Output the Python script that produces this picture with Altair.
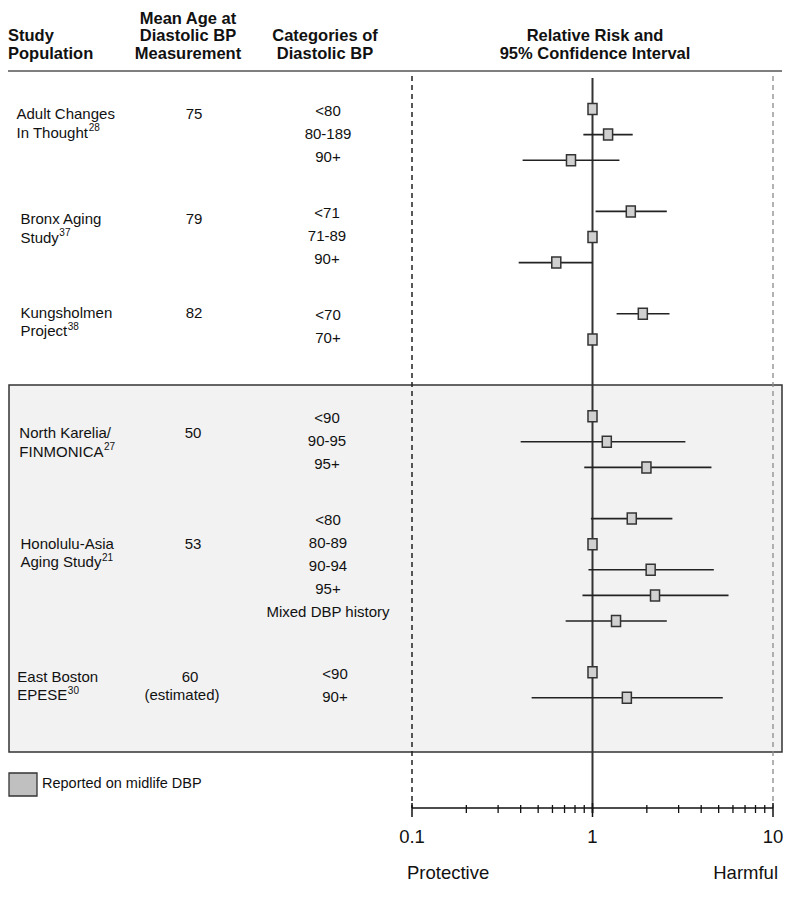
import altair as alt
import pandas as pd

# ------------------------------------------------------------------ data
study_line1 = ["Adult Changes", "Bronx Aging", "Kungsholmen", "North Karelia/",
               "Honolulu-Asia", "East Boston"]
study_line2 = ["In Thought", "Study", "Project", "FINMONICA",
               "Aging Study", "EPESE"]
study_ref = ["28", "37", "38", "27", "21", "30"]
ages = ["75", "79", "82", "50", "53", "60"]
age_note = ["", "", "", "", "", "(estimated)"]
midlife = [False, False, False, True, True, True]
categories = [["<80", "80-189", "90+"],
              ["<71", "71-89", "90+"],
              ["<70", "70+"],
              ["<90", "90-95", "95+"],
              ["<80", "80-89", "90-94", "95+", "Mixed DBP history"],
              ["<90", "90+"]]
rr = [[1.0, 1.22, 0.76],
      [1.63, 1.0, 0.63],
      [1.90, 1.0],
      [1.0, 1.20, 1.99],
      [1.65, 1.0, 2.10, 2.22, 1.35],
      [1.0, 1.55]]
ci_low = [[None, 0.89, 0.41],
          [1.04, None, 0.39],
          [1.36, None],
          [None, 0.40, 0.90],
          [0.98, None, 0.95, 0.88, 0.71],
          [None, 0.46]]
ci_high = [[None, 1.67, 1.41],
           [2.58, None, 1.00],
           [2.67, None],
           [None, 3.27, 4.56],
           [2.77, None, 4.70, 5.67, 2.58],
           [None, 5.27]]
x_ticks = [0.1, 0.2, 0.3, 0.4, 0.5, 0.6, 0.7, 0.8, 0.9,
           1, 2, 3, 4, 5, 6, 7, 8, 9, 10]
x_major = [0.1, 1, 10]
x_major_labels = ["0.1", "1", "10"]
headers = [["Study", "Population"],
           ["Mean Age at", "Diastolic BP", "Measurement"],
           ["Categories of", "Diastolic BP"],
           ["Relative Risk and", "95% Confidence Interval"]]
legend_label = "Reported on midlife DBP"
end_labels = ["Protective", "Harmful"]

# ------------------------------------------------------------------ layout (style only)
FONT = "Liberation Sans, Arial, Helvetica, sans-serif"
TXT = "#111111"
BODY = 15
header_x = [0, 180, 317, 587]
header_align = ["left", "center", "center", "center"]
header_y = [-7.5, 10.2, 28]
name_x = [8.5, 12.5, 12.5, 11.3, 12.5, 9.3]
name_dy = [5, 8, -1, 17, 25, 4.5]
age_x = [186, 186, 186, 185, 185, 182]
note_x = 174
cat_x = [320, 319, 320, 319, 320, 327]
LINE = 18.5

# Arial / Liberation Sans advance widths (1/1000 em) to place superscripts
ARIAL_W = {"I": 278, "n": 556, " ": 278, "T": 611, "h": 556, "o": 556, "u": 556,
           "g": 556, "t": 278, "S": 667, "d": 556, "y": 500, "P": 667, "r": 333,
           "j": 222, "e": 556, "c": 500, "F": 611, "N": 722, "M": 833, "O": 778,
           "C": 722, "A": 667, "i": 222, "E": 667}


def text_width(s, size):
    return sum(ARIAL_W.get(ch, 556) for ch in s) * size / 1000.0


# ------------------------------------------------------------------ table
rows, starts = [], []
slot = 0
for i in range(len(study_line1)):
    if i > 0 and midlife[i] and not midlife[i - 1]:
        slot += 1
    starts.append(slot)
    for j, cat in enumerate(categories[i]):
        rows.append(dict(study=i, category=cat, slot=slot + j,
                         cat_slot=slot + 0.9 * j, rr=rr[i][j],
                         lo=ci_low[i][j], hi=ci_high[i][j]))
    slot += len(categories[i]) + 1
df = pd.DataFrame(rows)
df["lo"] = df["lo"].astype(float)
df["hi"] = df["hi"].astype(float)

xs = alt.Scale(type="log", domain=[0.1, 10], range=[404, 765], nice=False)
ys = alt.Scale(domain=[0, 23], range=[83, 671.8], zero=False, nice=False)
one = pd.DataFrame({"k": [0]})

layers = []

# shaded midlife box
layers.append(alt.Chart(one).mark_rect(fill="#f2f2f2", stroke="#333333", strokeWidth=1.5)
              .encode(x=alt.value(1), x2=alt.value(774), y=alt.value(359), y2=alt.value(726)))
# header rule
layers.append(alt.Chart(one).mark_rule(color="#555555", strokeWidth=1.5)
              .encode(x=alt.value(0), x2=alt.value(774), y=alt.value(45)))

# reference lines
layers.append(alt.Chart(pd.DataFrame({"v": [x_major[0]]}))
              .mark_rule(color="#222222", strokeWidth=1.5, strokeDash=[5, 4])
              .encode(x=alt.X("v:Q", scale=xs, axis=None), y=alt.value(50), y2=alt.value(782)))
layers.append(alt.Chart(pd.DataFrame({"v": [x_major[2]]}))
              .mark_rule(color="#8a8a8a", strokeWidth=1.3, strokeDash=[5, 4])
              .encode(x=alt.X("v:Q", scale=xs, axis=None), y=alt.value(50), y2=alt.value(782)))
layers.append(alt.Chart(pd.DataFrame({"v": [x_major[1]]}))
              .mark_rule(color="#333333", strokeWidth=2)
              .encode(x=alt.X("v:Q", scale=xs, axis=None), y=alt.value(52), y2=alt.value(787)))

# confidence intervals
layers.append(alt.Chart(df).transform_filter("isValid(datum.lo)")
              .mark_rule(color="#222222", strokeWidth=1.6)
              .encode(x=alt.X("lo:Q", scale=xs, axis=None), x2="hi:Q",
                      y=alt.Y("slot:Q", scale=ys, axis=None)))
# point estimates
layers.append(alt.Chart(df)
              .mark_point(shape="M-0.82,-1H0.82V1H-0.82Z", size=121, filled=True,
                          fill="#d0d0d0", stroke="#333333", strokeWidth=1.5,
                          opacity=1, fillOpacity=1, strokeOpacity=1)
              .encode(x=alt.X("rr:Q", scale=xs, axis=None),
                      y=alt.Y("slot:Q", scale=ys, axis=None)))

# per-study text
for i in range(len(study_line1)):
    sdf = pd.DataFrame({"slot": [starts[i]], "l1": [study_line1[i]], "l2": [study_line2[i]],
                        "ref": [study_ref[i]], "age": [ages[i]], "note": [age_note[i]]})
    base = alt.Chart(sdf)
    y_enc = alt.Y("slot:Q", scale=ys, axis=None)
    common = dict(font=FONT, fontSize=BODY, color=TXT, baseline="middle")
    layers.append(base.mark_text(align="left", dy=name_dy[i], **common)
                  .encode(x=alt.value(name_x[i]), y=y_enc, text="l1:N"))
    layers.append(base.mark_text(align="left", dy=name_dy[i] + LINE, **common)
                  .encode(x=alt.value(name_x[i]), y=y_enc, text="l2:N"))
    layers.append(base.mark_text(align="left", baseline="middle", font=FONT, fontSize=10,
                                 color=TXT, dy=name_dy[i] + LINE - 4.5)
                  .encode(x=alt.value(name_x[i] + text_width(study_line2[i], BODY) + 0.5),
                          y=y_enc, text="ref:N"))
    layers.append(base.mark_text(align="center", dy=name_dy[i], **common)
                  .encode(x=alt.value(age_x[i]), y=y_enc, text="age:N"))
    if age_note[i]:
        layers.append(base.mark_text(align="center", dy=name_dy[i] + LINE, **common)
                      .encode(x=alt.value(note_x), y=y_enc, text="note:N"))
    layers.append(alt.Chart(df[df.study == i]).mark_text(align="center", dy=1.5, **common)
                  .encode(x=alt.value(cat_x[i]),
                          y=alt.Y("cat_slot:Q", scale=ys, axis=None), text="category:N"))

# headers
for h, lines in enumerate(headers):
    ys_h = header_y[len(header_y) - len(lines):]
    for k, line in enumerate(lines):
        layers.append(alt.Chart(pd.DataFrame({"t": [line]}))
                      .mark_text(align=header_align[h], baseline="middle", font=FONT,
                                 fontSize=16.5, fontWeight="bold", color=TXT)
                      .encode(x=alt.value(header_x[h]), y=alt.value(ys_h[k]), text="t:N"))

# manual log axis
tick_df = pd.DataFrame({"t": x_ticks, "major": [t in x_major for t in x_ticks]})
layers.append(alt.Chart(pd.DataFrame({"a": [x_major[0]], "b": [x_major[2]]}))
              .mark_rule(color="#111111", strokeWidth=1.5)
              .encode(x=alt.X("a:Q", scale=xs, axis=None), x2="b:Q", y=alt.value(782)))
layers.append(alt.Chart(tick_df).transform_filter("!datum.major")
              .mark_rule(color="#111111", strokeWidth=1.3)
              .encode(x=alt.X("t:Q", scale=xs, axis=None), y=alt.value(779), y2=alt.value(787)))
layers.append(alt.Chart(tick_df).transform_filter("datum.major")
              .mark_rule(color="#111111", strokeWidth=1.5)
              .encode(x=alt.X("t:Q", scale=xs, axis=None), y=alt.value(777), y2=alt.value(791)))
layers.append(alt.Chart(pd.DataFrame({"t": x_major, "label": x_major_labels}))
              .mark_text(align="center", baseline="middle", font=FONT, fontSize=18.5, color=TXT)
              .encode(x=alt.X("t:Q", scale=xs, axis=None), y=alt.value(810.7), text="label:N"))
layers.append(alt.Chart(pd.DataFrame({"t": [end_labels[0]]}))
              .mark_text(align="left", baseline="middle", font=FONT, fontSize=18.5, color=TXT)
              .encode(x=alt.value(399), y=alt.value(847), text="t:N"))
layers.append(alt.Chart(pd.DataFrame({"t": [end_labels[1]]}))
              .mark_text(align="right", baseline="middle", font=FONT, fontSize=18.5, color=TXT)
              .encode(x=alt.value(770), y=alt.value(847), text="t:N"))

# legend
layers.append(alt.Chart(one).mark_rect(fill="#c0c0c0", stroke="#333333", strokeWidth=1.3)
              .encode(x=alt.value(1), x2=alt.value(29), y=alt.value(747), y2=alt.value(770)))
layers.append(alt.Chart(pd.DataFrame({"t": [legend_label]}))
              .mark_text(align="left", baseline="middle", font=FONT, fontSize=14.5, color=TXT)
              .encode(x=alt.value(34), y=alt.value(758), text="t:N"))

chart = (alt.layer(*layers)
         .properties(width=784, height=782, background="white",
                     padding={"left": 0, "top": 18, "right": 0, "bottom": 89},
                     autosize=alt.AutoSizeParams(type="none"))
         .configure_view(stroke=None, strokeWidth=0))

chart.save("out.html", embed_options={"renderer": "svg", "actions": False})
